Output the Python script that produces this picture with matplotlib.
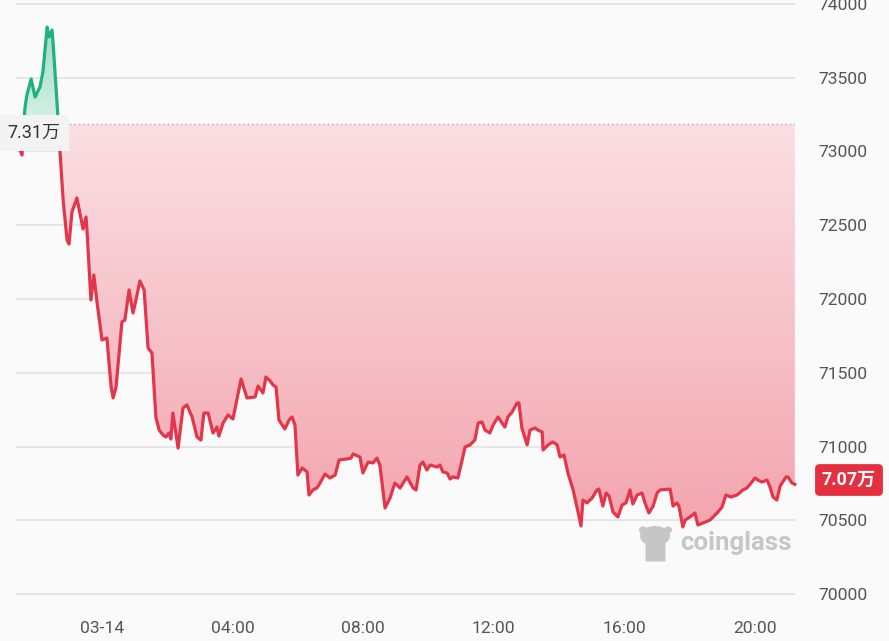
import math
import numpy as np
import matplotlib
matplotlib.use("Agg")
import matplotlib.pyplot as plt
from matplotlib.patches import Rectangle, Ellipse, FancyBboxPatch
from matplotlib.path import Path
from matplotlib.transforms import IdentityTransform

# ---------------- data (hours relative to 03-14 00:00, price USD) ----------------
hours = [-2.57, -2.45, -2.36, -2.30, -2.17, -2.05, -1.90, -1.81, -1.68, -1.62, -1.53, -1.50,
         -1.35, -1.29, -1.19, -1.07, -1.01, -0.92, -0.77, -0.58, -0.49, -0.46, -0.34, -0.25,
         -0.15, 0.00, 0.15, 0.28, 0.34, 0.43, 0.61, 0.70, 0.83, 0.95, 1.04, 1.16, 1.29, 1.41,
         1.53, 1.65, 1.75, 1.87, 1.96, 2.05, 2.11, 2.17, 2.33, 2.48, 2.60, 2.76, 2.91, 3.03,
         3.12, 3.25, 3.40, 3.52, 3.58, 3.71, 3.86, 4.01, 4.26, 4.44, 4.69, 4.78, 4.93, 5.02,
         5.15, 5.24, 5.33, 5.42, 5.60, 5.73, 5.82, 5.91, 6.00, 6.13, 6.28, 6.34, 6.46, 6.58,
         6.68, 6.83, 6.98, 7.14, 7.26, 7.50, 7.63, 7.69, 7.90, 7.99, 8.15, 8.30, 8.42, 8.51,
         8.67, 8.82, 8.97, 9.13, 9.34, 9.53, 9.62, 9.74, 9.83, 9.95, 10.05, 10.26, 10.35,
         10.44, 10.57, 10.66, 10.75, 10.90, 11.03, 11.12, 11.27, 11.42, 11.52, 11.64, 11.73,
         11.88, 11.98, 12.13, 12.25, 12.34, 12.43, 12.56, 12.71, 12.77, 12.86, 13.02, 13.11,
         13.26, 13.35, 13.48, 13.51, 13.66, 13.81, 13.94, 14.03, 14.15, 14.27, 14.43, 14.58,
         14.67, 14.73, 14.85, 15.01, 15.16, 15.22, 15.34, 15.44, 15.53, 15.65, 15.80, 15.93,
         16.05, 16.17, 16.26, 16.39, 16.54, 16.63, 16.75, 16.88, 17.00, 17.09, 17.40, 17.49,
         17.61, 17.67, 17.79, 17.86, 18.01, 18.16, 18.25, 18.41, 18.62, 18.84, 18.99, 19.11,
         19.26, 19.45, 19.63, 19.75, 19.88, 20.00, 20.09, 20.21, 20.37, 20.46, 20.55, 20.67,
         20.77, 20.95, 21.01, 21.13, 21.22]
prices = [73044, 72976, 73295, 73383, 73491, 73369, 73437, 73539, 73843, 73776, 73823, 73742,
          73234, 73010, 72671, 72400, 72373, 72590, 72685, 72475, 72556, 72468, 71994, 72163,
          71974, 71723, 71736, 71404, 71330, 71404, 71845, 71858, 72062, 71906, 71994, 72123,
          72062, 71669, 71635, 71201, 71113, 71079, 71066, 71093, 71052, 71228, 70991, 71262,
          71283, 71201, 71066, 71045, 71228, 71228, 71093, 71133, 71072, 71161, 71215, 71188,
          71459, 71330, 71337, 71411, 71364, 71472, 71445, 71418, 71404, 71181, 71120, 71181,
          71201, 71147, 70808, 70856, 70829, 70673, 70707, 70720, 70754, 70815, 70788, 70808,
          70910, 70917, 70923, 70951, 70930, 70822, 70896, 70890, 70923, 70876, 70585, 70652,
          70754, 70720, 70795, 70720, 70707, 70876, 70896, 70842, 70876, 70862, 70876, 70829,
          70822, 70781, 70795, 70788, 70910, 70998, 71012, 71045, 71161, 71167, 71113, 71093,
          71147, 71201, 71161, 71133, 71201, 71235, 71296, 71296, 71127, 71012, 71113, 71127,
          71113, 71100, 70978, 71012, 71032, 71012, 70930, 70944, 70822, 70707, 70558, 70463,
          70639, 70619, 70652, 70707, 70713, 70598, 70686, 70666, 70558, 70524, 70605, 70619,
          70707, 70612, 70673, 70686, 70619, 70551, 70598, 70686, 70707, 70713, 70598, 70619,
          70598, 70456, 70503, 70524, 70551, 70470, 70483, 70503, 70551, 70591, 70673, 70659,
          70673, 70707, 70720, 70754, 70788, 70774, 70761, 70774, 70727, 70659, 70639, 70734,
          70795, 70795, 70754, 70745]
baseline = 73184
y_ticks = [70000, 70500, 71000, 71500, 72000, 72500, 73000, 73500, 74000]
x_tick_pos = [0, 4, 8, 12, 16, 20]
x_tick_labels = ["03-14", "04:00", "08:00", "12:00", "16:00", "20:00"]

RED = "#e3364a"
GREEN = "#1fb27e"
BG = "#fafafa"

W, H = 889, 641
fig = plt.figure(figsize=(W / 100, H / 100), dpi=100)
fig.patch.set_facecolor(BG)
ax = fig.add_axes([16 / W, 46.7 / H, 779 / W, 590.4 / H])
ax.set_facecolor("none")
x0, x1 = -2.634, 21.225
ax.set_xlim(x0, x1)
ax.set_ylim(70000, 74000)
for s in ax.spines.values():
    s.set_visible(False)

# grid
ax.hlines(y_ticks, x0, x1, colors="#e0e0e0", linewidth=1.1, zorder=1, clip_on=False)

h = np.array(hours)
p = np.array(prices)

# gradient fills
def gradient_fill(mask_cond, lo, hi, c_lo, c_hi):
    coll = ax.fill_between(h, p, baseline, where=mask_cond, interpolate=True,
                           facecolor="none", edgecolor="none")
    paths = coll.get_paths()
    if not paths:
        return
    comp = Path.make_compound_path(*paths)
    c_lo = np.array(matplotlib.colors.to_rgb(c_lo))
    c_hi = np.array(matplotlib.colors.to_rgb(c_hi))
    t = np.linspace(0, 1, 256)[:, None]
    grad = (c_lo * (1 - t) + c_hi * t)[:, None, :]
    im = ax.imshow(grad, extent=[x0, x1, lo, hi], origin="lower", aspect="auto",
                   zorder=2, interpolation="bilinear")
    im.set_clip_path(comp, ax.transData)

gradient_fill(p <= baseline, p.min(), baseline, "#f3a5af", "#fadfe3")
gradient_fill(p >= baseline, baseline, p.max(), "#d6f1e5", "#9fdcc2")
ax.set_xlim(x0, x1)
ax.set_ylim(70000, 74000)

# baseline dotted
ax.hlines(baseline, x0, x1, colors="#d59a9f", linewidth=1.0, linestyles=(0, (1, 2.2)), zorder=3)

# line coloured by side of baseline
l_red, = ax.plot(h, p, color=RED, linewidth=2.3, zorder=4, solid_joinstyle="round")
l_red.set_clip_path(Rectangle((x0 - 5, 60000), 40, baseline - 60000, transform=ax.transData))
l_grn, = ax.plot(h, p, color=GREEN, linewidth=2.3, zorder=4, solid_joinstyle="round")
l_grn.set_clip_path(Rectangle((x0 - 5, baseline), 40, 10000, transform=ax.transData))

# axes ticks
ax.yaxis.tick_right()
ax.set_yticks(y_ticks)
ax.set_yticklabels([str(v) for v in y_ticks])
ax.set_xticks(x_tick_pos)
ax.set_xticklabels(x_tick_labels)
ax.tick_params(axis="y", length=0, pad=17, labelsize=12.6, labelcolor="#555555")
ax.tick_params(axis="x", length=0, pad=19, labelsize=12.6, labelcolor="#555555")
for lab in ax.get_xticklabels() + ax.get_yticklabels():
    lab.set_fontfamily("Roboto")

def wan(v):
    return f"{math.floor(v / 100) / 100:.2f}万"

# left baseline label
fig.text(7 / W, (H - 133) / H, wan(baseline), ha="left", va="center", fontsize=13,
         color="#333333", family=["Roboto", "Noto Sans CJK SC"], zorder=10,
         bbox=dict(boxstyle="square,pad=0.5", facecolor="#f3f3f3", edgecolor="none"))

# right last price label
fig.text(849 / W, (H - 480) / H, wan(prices[-1]), ha="center", va="center", fontsize=13,
         color="white", weight="bold", family=["Roboto", "Noto Sans CJK SC"], zorder=10,
         bbox=dict(boxstyle="round,pad=0.38,rounding_size=0.25", facecolor="#e5303f",
                   edgecolor="none"))

# watermark
wm = "#c6c6c6"
idt = IdentityTransform()
fig.add_artist(Ellipse((655, H - 536), 30, 20, facecolor=wm, edgecolor="none", transform=idt))
fig.add_artist(FancyBboxPatch((647, H - 560), 17, 18, boxstyle="round,pad=1.5",
                              facecolor=wm, edgecolor="none", transform=idt))
fig.add_artist(Ellipse((643, H - 530), 8, 7, facecolor=wm, edgecolor="none", transform=idt))
fig.add_artist(Ellipse((668, H - 530), 8, 7, facecolor=wm, edgecolor="none", transform=idt))
fig.text(680 / W, (H - 543) / H, "coinglass", ha="left", va="center", fontsize=18.5,
         color=wm, weight="bold", family="Roboto")

fig.savefig("out.png", dpi=100, facecolor=BG)
